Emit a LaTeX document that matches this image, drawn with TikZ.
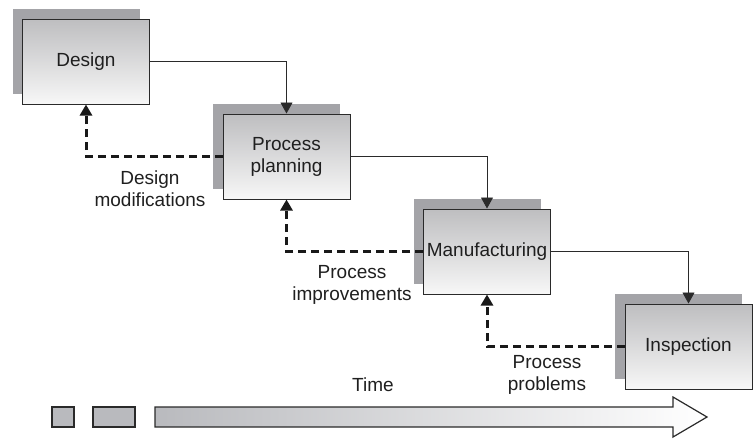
\documentclass[tikz,border=0pt]{standalone}
\usepackage{fontspec}
\setmainfont{Liberation Sans}
\usetikzlibrary{arrows.meta,shadows}
\definecolor{boxtop}{HTML}{BEBEC0}
\definecolor{boxbot}{HTML}{F7F7F7}
\definecolor{shadowgray}{HTML}{A4A4A8}
\definecolor{edge}{HTML}{2A2A2A}
\definecolor{sqgray}{HTML}{B9BABE}
\definecolor{arrowmid}{HTML}{DCDCDE}
\tikzset{
  stagebox/.style={draw=edge, line width=1pt, top color=boxtop, bottom color=boxbot,
    minimum width=127pt, minimum height=85pt, inner sep=0pt, align=center,
    font=\fontsize{19}{22}\selectfont, text=black!88,
    general shadow={fill=shadowgray, shadow xshift=-10pt, shadow yshift=10pt}},
  flowarrow/.style={draw=edge, line width=0.9pt, -{Triangle[length=11pt,width=12pt]}},
  feedback/.style={draw=black!90, line width=3pt, dash pattern=on 8pt off 5pt,
    -{Triangle[length=11pt,width=12pt]}},
  lbl/.style={align=center, inner sep=0pt, anchor=north, font=\fontsize{19}{22}\selectfont, text=black!88}
}
\begin{document}
\begin{tikzpicture}[x=1pt,y=-1pt]
\useasboundingbox (0,0) rectangle (755,439);
\node[stagebox] (design) at (86,61.5) {Design};
\node[stagebox] (pp) at (286.5,156.5) {Process\\planning};
\node[stagebox] (mfg) at (487,251.5) {Manufacturing};
\node[stagebox] (insp) at (688.5,346.5) {Inspection};
\draw[flowarrow] (design.east) -| (pp.north);
\draw[flowarrow] (pp.east) -| (mfg.north);
\draw[flowarrow] (mfg.east) -| (insp.north);
\draw[feedback] (pp.west) -| (design.south);
\draw[feedback] (mfg.west) -| (pp.south);
\draw[feedback] (insp.west) -| (mfg.south);
\node[lbl] (dm) at (150,171) {Design\\modifications};
\node[lbl] (pi) at (352,265) {Process\\improvements};
\node[lbl] (pr) at (547,355) {Process\\problems};
\node[lbl] (time) at (373,378) {Time};
\draw[draw=edge, line width=1.2pt, fill=sqgray] (52,407) rectangle (74,427);
\draw[draw=edge, line width=1.2pt, fill=sqgray] (93,407) rectangle (135,427);
\shade[left color=sqgray, middle color=arrowmid, right color=white, draw=edge, line width=1.2pt]
  (155,407) -- (673,407) -- (673,397) -- (707,417) -- (673,437) -- (673,427) -- (155,427) -- cycle;
\end{tikzpicture}
\end{document}
